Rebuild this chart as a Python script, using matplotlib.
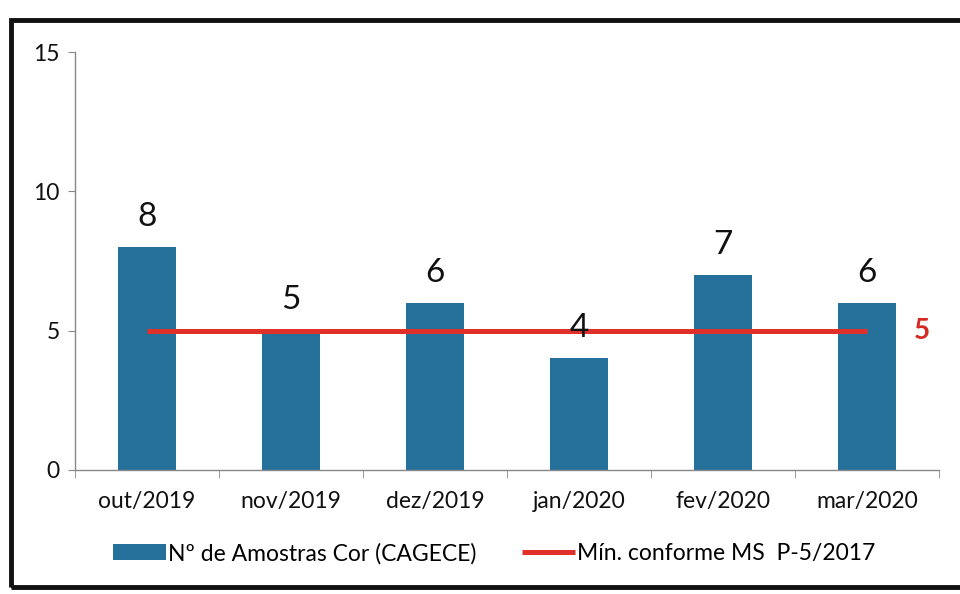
import matplotlib
matplotlib.use("Agg")
import matplotlib.pyplot as plt
from matplotlib.patches import Rectangle
import numpy as np

categories = ["out/2019", "nov/2019", "dez/2019", "jan/2020", "fev/2020", "mar/2020"]
amostras = [8, 5, 6, 4, 7, 6]
minimo = [5, 5, 5, 5, 5, 5]
bar_label = "Nº de Amostras Cor (CAGECE)"
line_label = "Mín. conforme MS  P-5/2017"

plt.rcParams['font.family'] = ['Lato', 'DejaVu Sans']

fig = plt.figure(figsize=(9.6, 5.94), dpi=100)
ax = fig.add_axes([0.078, 0.209, 0.900, 0.703])

x = np.arange(len(categories))
bars = ax.bar(x, amostras, width=0.4, color='#25719b', label=bar_label, zorder=2)
line, = ax.plot(x, minimo, color='#e0302a', lw=3.6, label=line_label, zorder=3, solid_capstyle='butt')

for xi, v in zip(x, amostras):
    ax.annotate(str(v), (xi, v), xytext=(0, 11), textcoords='offset points',
                ha='center', va='bottom', fontsize=24, color='#111111')
ax.annotate(str(minimo[-1]), (x[-1], minimo[-1]), xytext=(34, 0), textcoords='offset points',
            ha='left', va='center', fontsize=20, fontweight='bold', color='#d42a22')

ax.set_xlim(-0.5, len(categories) - 0.5)
ax.set_ylim(0, 15)
ax.set_yticks([0, 5, 10, 15])
ax.set_xticks(x)
ax.set_xticklabels(categories)
ax.set_xticks(np.arange(-0.5, len(categories), 1.0), minor=True)
ax.tick_params(axis='x', which='major', length=0, pad=15, labelsize=16.5, labelcolor='#111111')
ax.tick_params(axis='x', which='minor', length=6, color='#888888')
ax.tick_params(axis='y', length=5, color='#888888', labelsize=16.5, labelcolor='#111111', pad=6)
for s in ['top', 'right']:
    ax.spines[s].set_visible(False)
for s in ['left', 'bottom']:
    ax.spines[s].set_color('#888888')
    ax.spines[s].set_linewidth(1.0)

fig.legend([bars, line], [bar_label, line_label], loc='center', bbox_to_anchor=(0.515, 0.068),
           ncol=2, frameon=False, fontsize=16.5, handlelength=2.3, handletextpad=0.1,
           columnspacing=2.0)

fig.patches.append(Rectangle((0.011, 0.012), 1.2, 0.955, transform=fig.transFigure,
                             fill=False, edgecolor='#111111', linewidth=3.5))

fig.savefig("out.png", dpi=100)
